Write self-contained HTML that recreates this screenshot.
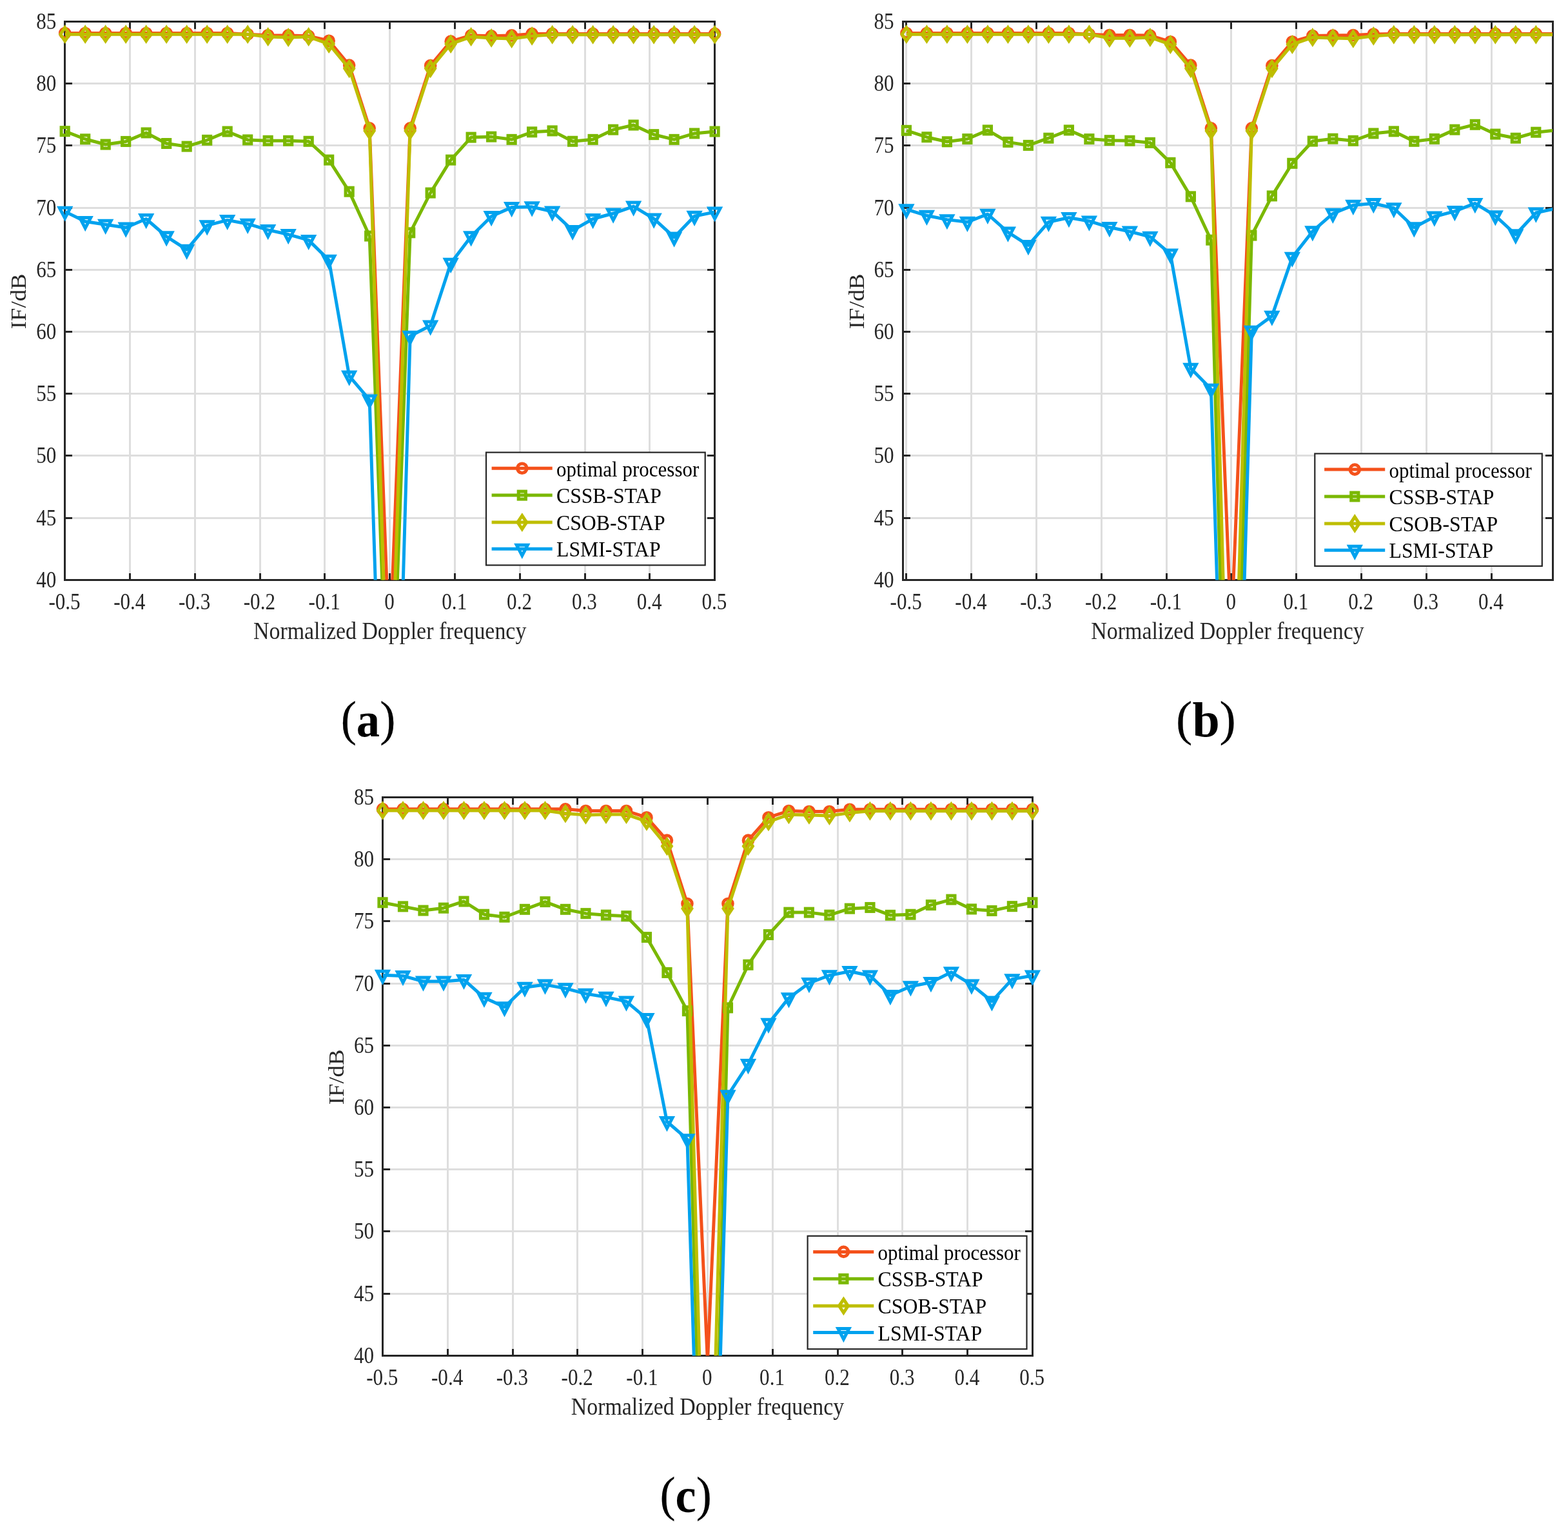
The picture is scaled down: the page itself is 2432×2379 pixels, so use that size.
<!DOCTYPE html>
<html><head><meta charset="utf-8"><title>IF vs Normalized Doppler frequency</title>
<style>html,body{margin:0;padding:0;background:#fff}svg{display:block}</style></head>
<body><svg width="2432" height="2379" viewBox="0 0 2432 2379">
<rect width="2432" height="2379" fill="#fff"/>
<clipPath id="cpa"><rect x="100.7" y="33.5" width="1007.9" height="865.9"/></clipPath>
<path d="M100.5 33.5V899.5M201.5 33.5V899.5M302.5 33.5V899.5M403.5 33.5V899.5M503.5 33.5V899.5M604.5 33.5V899.5M705.5 33.5V899.5M806.5 33.5V899.5M907.5 33.5V899.5M1007.5 33.5V899.5M1108.5 33.5V899.5M100.5 899.5H1108.5M100.5 803.5H1108.5M100.5 706.5H1108.5M100.5 610.5H1108.5M100.5 514.5H1108.5M100.5 418.5H1108.5M100.5 322.5H1108.5M100.5 225.5H1108.5M100.5 129.5H1108.5M100.5 33.5H1108.5" stroke="#DEDEDE" stroke-width="3.0" fill="none" shape-rendering="crispEdges"/>
<path d="M201.5 899.5v-11M201.5 33.5v11M302.5 899.5v-11M302.5 33.5v11M403.5 899.5v-11M403.5 33.5v11M503.5 899.5v-11M503.5 33.5v11M604.5 899.5v-11M604.5 33.5v11M705.5 899.5v-11M705.5 33.5v11M806.5 899.5v-11M806.5 33.5v11M907.5 899.5v-11M907.5 33.5v11M1007.5 899.5v-11M1007.5 33.5v11M100.5 803.5h11.5M1108.5 803.5h-11.5M100.5 706.5h11.5M1108.5 706.5h-11.5M100.5 610.5h11.5M1108.5 610.5h-11.5M100.5 514.5h11.5M1108.5 514.5h-11.5M100.5 418.5h11.5M1108.5 418.5h-11.5M100.5 322.5h11.5M1108.5 322.5h-11.5M100.5 225.5h11.5M1108.5 225.5h-11.5M100.5 129.5h11.5M1108.5 129.5h-11.5" stroke="#262626" stroke-width="3.0" fill="none" shape-rendering="crispEdges"/>
<rect x="100.5" y="33.5" width="1008" height="866" stroke="#262626" stroke-width="3.0" fill="none" shape-rendering="crispEdges"/>
<g font-family="Liberation Serif, serif" font-size="34" fill="#262626"><text transform="translate(100 944.9) scale(0.915 1.045)" text-anchor="middle">-0.5</text><text transform="translate(200.79 944.9) scale(0.915 1.045)" text-anchor="middle">-0.4</text><text transform="translate(301.58 944.9) scale(0.915 1.045)" text-anchor="middle">-0.3</text><text transform="translate(402.37 944.9) scale(0.915 1.045)" text-anchor="middle">-0.2</text><text transform="translate(503.16 944.9) scale(0.915 1.045)" text-anchor="middle">-0.1</text><text transform="translate(603.95 944.9) scale(0.915 1.045)" text-anchor="middle">0</text><text transform="translate(704.74 944.9) scale(0.915 1.045)" text-anchor="middle">0.1</text><text transform="translate(805.53 944.9) scale(0.915 1.045)" text-anchor="middle">0.2</text><text transform="translate(906.32 944.9) scale(0.915 1.045)" text-anchor="middle">0.3</text><text transform="translate(1007.11 944.9) scale(0.915 1.045)" text-anchor="middle">0.4</text><text transform="translate(1107.9 944.9) scale(0.915 1.045)" text-anchor="middle">0.5</text><text transform="translate(87.3 910.9) scale(0.915 1.045)" text-anchor="end">40</text><text transform="translate(87.3 814.69) scale(0.915 1.045)" text-anchor="end">45</text><text transform="translate(87.3 718.49) scale(0.915 1.045)" text-anchor="end">50</text><text transform="translate(87.3 622.28) scale(0.915 1.045)" text-anchor="end">55</text><text transform="translate(87.3 526.08) scale(0.915 1.045)" text-anchor="end">60</text><text transform="translate(87.3 429.88) scale(0.915 1.045)" text-anchor="end">65</text><text transform="translate(87.3 333.67) scale(0.915 1.045)" text-anchor="end">70</text><text transform="translate(87.3 237.47) scale(0.915 1.045)" text-anchor="end">75</text><text transform="translate(87.3 141.26) scale(0.915 1.045)" text-anchor="end">80</text><text transform="translate(87.3 45.05) scale(0.915 1.045)" text-anchor="end">85</text></g>
<text transform="translate(604.65 991) scale(0.997 1.12)" text-anchor="middle" font-family="Liberation Serif, serif" font-size="34" fill="#262626">Normalized Doppler frequency</text>
<text transform="translate(40.2 467.35) rotate(-90) scale(1.08 0.99)" text-anchor="middle" font-family="Liberation Serif, serif" font-size="34" fill="#262626">IF/dB</text>
<path d="M100.7 51.45L132.2 51.45L163.69 51.45L195.19 51.45L226.69 51.45L258.18 51.45L289.68 51.45L321.18 51.45L352.68 51.45L384.17 53.18L415.67 54.72L447.17 54.91L478.66 55.87L510.16 63.19L541.66 101.09L573.15 198.84L604.65 1028.5M604.65 1004L636.15 198.84L667.64 101.67L699.14 64.15L730.64 54.91L762.13 55.87L793.63 54.91L825.13 52.41L856.62 52.41L888.12 52.41L919.62 52.41L951.12 52.41L982.61 52.41L1014.11 52.41L1045.61 52.41L1077.1 52.41L1108.6 52.41" stroke="#F4511B" stroke-width="5.0" fill="none" stroke-linejoin="round" clip-path="url(#cpa)"/>
<g stroke="#F4511B" stroke-width="5.0" fill="none" stroke-miterlimit="10"><circle cx="100.7" cy="51.45" r="7.3"/><circle cx="132.2" cy="51.45" r="7.3"/><circle cx="163.69" cy="51.45" r="7.3"/><circle cx="195.19" cy="51.45" r="7.3"/><circle cx="226.69" cy="51.45" r="7.3"/><circle cx="258.18" cy="51.45" r="7.3"/><circle cx="289.68" cy="51.45" r="7.3"/><circle cx="321.18" cy="51.45" r="7.3"/><circle cx="352.68" cy="51.45" r="7.3"/><circle cx="384.17" cy="53.18" r="7.3"/><circle cx="415.67" cy="54.72" r="7.3"/><circle cx="447.17" cy="54.91" r="7.3"/><circle cx="478.66" cy="55.87" r="7.3"/><circle cx="510.16" cy="63.19" r="7.3"/><circle cx="541.66" cy="101.09" r="7.3"/><circle cx="573.15" cy="198.84" r="7.3"/><circle cx="636.15" cy="198.84" r="7.3"/><circle cx="667.64" cy="101.67" r="7.3"/><circle cx="699.14" cy="64.15" r="7.3"/><circle cx="730.64" cy="54.91" r="7.3"/><circle cx="762.13" cy="55.87" r="7.3"/><circle cx="793.63" cy="54.91" r="7.3"/><circle cx="825.13" cy="52.41" r="7.3"/><circle cx="856.62" cy="52.41" r="7.3"/><circle cx="888.12" cy="52.41" r="7.3"/><circle cx="919.62" cy="52.41" r="7.3"/><circle cx="951.12" cy="52.41" r="7.3"/><circle cx="982.61" cy="52.41" r="7.3"/><circle cx="1014.11" cy="52.41" r="7.3"/><circle cx="1045.61" cy="52.41" r="7.3"/><circle cx="1077.1" cy="52.41" r="7.3"/><circle cx="1108.6" cy="52.41" r="7.3"/></g>
<path d="M100.7 203.65L132.2 215.77L163.69 224.04L195.19 219.42L226.69 205.95L258.18 222.5L289.68 227.12L321.18 217.31L352.68 204.03L384.17 216.92L415.67 218.27L447.17 218.27L478.66 219.23L510.16 248.09L541.66 297.16L573.15 366.04L604.65 1223M604.65 1217.6L636.15 360.84L667.64 299.08L699.14 248.09L730.64 213.07L762.13 212.11L793.63 216.34L825.13 204.8L856.62 202.88L888.12 219.23L919.62 216.34L951.12 201.14L982.61 194.02L1014.11 208.65L1045.61 216.34L1077.1 206.92L1108.6 204.03" stroke="#7AB800" stroke-width="5.0" fill="none" stroke-linejoin="round" clip-path="url(#cpa)"/>
<g stroke="#7AB800" stroke-width="5.0" fill="none" stroke-miterlimit="10"><rect x="95.1" y="197.65" width="11.2" height="12"/><rect x="126.6" y="209.77" width="11.2" height="12"/><rect x="158.09" y="218.04" width="11.2" height="12"/><rect x="189.59" y="213.42" width="11.2" height="12"/><rect x="221.09" y="199.95" width="11.2" height="12"/><rect x="252.58" y="216.5" width="11.2" height="12"/><rect x="284.08" y="221.12" width="11.2" height="12"/><rect x="315.58" y="211.31" width="11.2" height="12"/><rect x="347.07" y="198.03" width="11.2" height="12"/><rect x="378.57" y="210.92" width="11.2" height="12"/><rect x="410.07" y="212.27" width="11.2" height="12"/><rect x="441.57" y="212.27" width="11.2" height="12"/><rect x="473.06" y="213.23" width="11.2" height="12"/><rect x="504.56" y="242.09" width="11.2" height="12"/><rect x="536.06" y="291.16" width="11.2" height="12"/><rect x="567.55" y="360.04" width="11.2" height="12"/><rect x="630.55" y="354.84" width="11.2" height="12"/><rect x="662.04" y="293.08" width="11.2" height="12"/><rect x="693.54" y="242.09" width="11.2" height="12"/><rect x="725.04" y="207.07" width="11.2" height="12"/><rect x="756.53" y="206.11" width="11.2" height="12"/><rect x="788.03" y="210.34" width="11.2" height="12"/><rect x="819.53" y="198.8" width="11.2" height="12"/><rect x="851.02" y="196.88" width="11.2" height="12"/><rect x="882.52" y="213.23" width="11.2" height="12"/><rect x="914.02" y="210.34" width="11.2" height="12"/><rect x="945.52" y="195.14" width="11.2" height="12"/><rect x="977.01" y="188.02" width="11.2" height="12"/><rect x="1008.51" y="202.65" width="11.2" height="12"/><rect x="1040.01" y="210.34" width="11.2" height="12"/><rect x="1071.5" y="200.92" width="11.2" height="12"/><rect x="1103" y="198.03" width="11.2" height="12"/></g>
<path d="M100.7 53.18L132.2 53.18L163.69 53.18L195.19 53.18L226.69 53.18L258.18 53.18L289.68 53.18L321.18 53.18L352.68 53.18L384.17 53.18L415.67 57.03L447.17 57.99L478.66 57.03L510.16 68.19L541.66 106.29L573.15 202.88L604.65 1209M604.65 1149L636.15 202.88L667.64 106.29L699.14 68.19L730.64 57.03L762.13 58.95L793.63 60.11L825.13 55.87L856.62 53.76L888.12 53.76L919.62 53.76L951.12 53.76L982.61 53.76L1014.11 53.76L1045.61 53.76L1077.1 53.76L1108.6 53.76" stroke="#BEBE00" stroke-width="5.0" fill="none" stroke-linejoin="round" clip-path="url(#cpa)"/>
<g stroke="#BEBE00" stroke-width="5.0" fill="none" stroke-miterlimit="10"><path d="M100.7 42.78L107.6 53.18L100.7 63.58L93.8 53.18Z"/><path d="M132.2 42.78L139.1 53.18L132.2 63.58L125.3 53.18Z"/><path d="M163.69 42.78L170.59 53.18L163.69 63.58L156.79 53.18Z"/><path d="M195.19 42.78L202.09 53.18L195.19 63.58L188.29 53.18Z"/><path d="M226.69 42.78L233.59 53.18L226.69 63.58L219.79 53.18Z"/><path d="M258.18 42.78L265.08 53.18L258.18 63.58L251.28 53.18Z"/><path d="M289.68 42.78L296.58 53.18L289.68 63.58L282.78 53.18Z"/><path d="M321.18 42.78L328.08 53.18L321.18 63.58L314.28 53.18Z"/><path d="M352.68 42.78L359.57 53.18L352.68 63.58L345.78 53.18Z"/><path d="M384.17 42.78L391.07 53.18L384.17 63.58L377.27 53.18Z"/><path d="M415.67 46.63L422.57 57.03L415.67 67.43L408.77 57.03Z"/><path d="M447.17 47.59L454.07 57.99L447.17 68.39L440.27 57.99Z"/><path d="M478.66 46.63L485.56 57.03L478.66 67.43L471.76 57.03Z"/><path d="M510.16 57.79L517.06 68.19L510.16 78.59L503.26 68.19Z"/><path d="M541.66 95.89L548.56 106.29L541.66 116.69L534.76 106.29Z"/><path d="M573.15 192.48L580.05 202.88L573.15 213.28L566.25 202.88Z"/><path d="M636.15 192.48L643.05 202.88L636.15 213.28L629.25 202.88Z"/><path d="M667.64 95.89L674.54 106.29L667.64 116.69L660.74 106.29Z"/><path d="M699.14 57.79L706.04 68.19L699.14 78.59L692.24 68.19Z"/><path d="M730.64 46.63L737.54 57.03L730.64 67.43L723.74 57.03Z"/><path d="M762.13 48.55L769.03 58.95L762.13 69.35L755.23 58.95Z"/><path d="M793.63 49.71L800.53 60.11L793.63 70.51L786.73 60.11Z"/><path d="M825.13 45.47L832.03 55.87L825.13 66.27L818.23 55.87Z"/><path d="M856.62 43.36L863.52 53.76L856.62 64.16L849.73 53.76Z"/><path d="M888.12 43.36L895.02 53.76L888.12 64.16L881.22 53.76Z"/><path d="M919.62 43.36L926.52 53.76L919.62 64.16L912.72 53.76Z"/><path d="M951.12 43.36L958.02 53.76L951.12 64.16L944.22 53.76Z"/><path d="M982.61 43.36L989.51 53.76L982.61 64.16L975.71 53.76Z"/><path d="M1014.11 43.36L1021.01 53.76L1014.11 64.16L1007.21 53.76Z"/><path d="M1045.61 43.36L1052.51 53.76L1045.61 64.16L1038.71 53.76Z"/><path d="M1077.1 43.36L1084 53.76L1077.1 64.16L1070.2 53.76Z"/><path d="M1108.6 43.36L1115.5 53.76L1108.6 64.16L1101.7 53.76Z"/></g>
<path d="M100.7 328.13L132.2 343.53L163.69 348.34L195.19 352.96L226.69 339.49L258.18 366.81L289.68 387.2L321.18 349.68L352.68 341.41L384.17 347.18L415.67 356.61L447.17 363.54L478.66 372.39L510.16 403.37L541.66 583.08L573.15 620.02L604.65 1597.6M604.65 1624L636.15 521.31L667.64 504.96L699.14 408.37L730.64 366.81L762.13 335.45L793.63 321.59L825.13 320.82L856.62 327.94L888.12 357.38L919.62 339.49L951.12 331.02L982.61 320.05L1014.11 339.1L1045.61 367.96L1077.1 335.25L1108.6 328.9" stroke="#00A2EE" stroke-width="5.0" fill="none" stroke-linejoin="round" clip-path="url(#cpa)"/>
<g stroke="#00A2EE" stroke-width="5.0" fill="none" stroke-miterlimit="10"><path d="M92.16 322.13L109.24 322.13L100.7 338.45Z"/><path d="M123.66 337.53L140.74 337.53L132.2 353.85Z"/><path d="M155.15 342.34L172.23 342.34L163.69 358.66Z"/><path d="M186.65 346.96L203.73 346.96L195.19 363.28Z"/><path d="M218.15 333.49L235.23 333.49L226.69 349.81Z"/><path d="M249.64 360.81L266.72 360.81L258.18 377.13Z"/><path d="M281.14 381.2L298.22 381.2L289.68 397.52Z"/><path d="M312.64 343.68L329.72 343.68L321.18 360Z"/><path d="M344.13 335.41L361.22 335.41L352.68 351.73Z"/><path d="M375.63 341.18L392.71 341.18L384.17 357.5Z"/><path d="M407.13 350.61L424.21 350.61L415.67 366.93Z"/><path d="M438.63 357.54L455.71 357.54L447.17 373.86Z"/><path d="M470.12 366.39L487.2 366.39L478.66 382.71Z"/><path d="M501.62 397.37L518.7 397.37L510.16 413.69Z"/><path d="M533.12 577.08L550.2 577.08L541.66 593.4Z"/><path d="M564.61 614.02L581.69 614.02L573.15 630.34Z"/><path d="M627.61 515.31L644.69 515.31L636.15 531.63Z"/><path d="M659.1 498.96L676.18 498.96L667.64 515.28Z"/><path d="M690.6 402.37L707.68 402.37L699.14 418.69Z"/><path d="M722.1 360.81L739.18 360.81L730.64 377.13Z"/><path d="M753.59 329.45L770.67 329.45L762.13 345.77Z"/><path d="M785.09 315.59L802.17 315.59L793.63 331.91Z"/><path d="M816.59 314.82L833.67 314.82L825.13 331.14Z"/><path d="M848.09 321.94L865.16 321.94L856.62 338.26Z"/><path d="M879.58 351.38L896.66 351.38L888.12 367.7Z"/><path d="M911.08 333.49L928.16 333.49L919.62 349.81Z"/><path d="M942.58 325.02L959.66 325.02L951.12 341.34Z"/><path d="M974.07 314.05L991.15 314.05L982.61 330.37Z"/><path d="M1005.57 333.1L1022.65 333.1L1014.11 349.42Z"/><path d="M1037.07 361.96L1054.15 361.96L1045.61 378.28Z"/><path d="M1068.56 329.25L1085.64 329.25L1077.1 345.57Z"/><path d="M1100.06 322.9L1117.14 322.9L1108.6 339.22Z"/></g>
<rect x="754" y="701.6" width="339.7" height="174.9" fill="#fff" stroke="#262626" stroke-width="2.2"/>
<path d="M762.6 726.2H856.7" stroke="#F4511B" stroke-width="5.0"/>
<g stroke="#F4511B" stroke-width="5.0" fill="none" stroke-miterlimit="10"><circle cx="809.8" cy="726.2" r="7.3"/></g>
<text transform="translate(863 738.8) scale(0.912 0.96)" font-family="Liberation Serif, serif" font-size="34" fill="#000">optimal processor</text>
<path d="M762.6 768.1H856.7" stroke="#7AB800" stroke-width="5.0"/>
<g stroke="#7AB800" stroke-width="5.0" fill="none" stroke-miterlimit="10"><rect x="804.2" y="762.1" width="11.2" height="12"/></g>
<text transform="translate(863 780.2) scale(0.932 1.02)" font-family="Liberation Serif, serif" font-size="34" fill="#000">CSSB-STAP</text>
<path d="M762.6 810.1H856.7" stroke="#BEBE00" stroke-width="5.0"/>
<g stroke="#BEBE00" stroke-width="5.0" fill="none" stroke-miterlimit="10"><path d="M809.8 799.7L816.7 810.1L809.8 820.5L802.9 810.1Z"/></g>
<text transform="translate(863 822.2) scale(0.934 1.02)" font-family="Liberation Serif, serif" font-size="34" fill="#000">CSOB-STAP</text>
<path d="M762.6 851.3H856.7" stroke="#00A2EE" stroke-width="5.0"/>
<g stroke="#00A2EE" stroke-width="5.0" fill="none" stroke-miterlimit="10"><path d="M801.26 845.3L818.34 845.3L809.8 861.62Z"/></g>
<text transform="translate(863 863.4) scale(0.934 1.02)" font-family="Liberation Serif, serif" font-size="34" fill="#000">LSMI-STAP</text>
<text transform="translate(571 1141.5) scale(0.907 0.948)" text-anchor="middle" font-family="Liberation Serif, serif" font-weight="bold" font-size="80" fill="#000"><tspan font-weight="normal" stroke="#000" stroke-width="0.2" dy="-1.5">(</tspan><tspan dy="1.5">a</tspan><tspan font-weight="normal" stroke="#000" stroke-width="0.2" dy="-1.5">)</tspan></text>
<clipPath id="cpb"><rect x="1400" y="33.5" width="1008" height="865.9"/></clipPath>
<path d="M1405.5 33.5V899.5M1506.5 33.5V899.5M1607.5 33.5V899.5M1708.5 33.5V899.5M1809.5 33.5V899.5M1909.5 33.5V899.5M2010.5 33.5V899.5M2111.5 33.5V899.5M2212.5 33.5V899.5M2313.5 33.5V899.5M1400.5 899.5H2408.5M1400.5 803.5H2408.5M1400.5 706.5H2408.5M1400.5 610.5H2408.5M1400.5 514.5H2408.5M1400.5 418.5H2408.5M1400.5 322.5H2408.5M1400.5 225.5H2408.5M1400.5 129.5H2408.5M1400.5 33.5H2408.5" stroke="#DEDEDE" stroke-width="3.0" fill="none" shape-rendering="crispEdges"/>
<path d="M1405.5 899.5v-11M1405.5 33.5v11M1506.5 899.5v-11M1506.5 33.5v11M1607.5 899.5v-11M1607.5 33.5v11M1708.5 899.5v-11M1708.5 33.5v11M1809.5 899.5v-11M1809.5 33.5v11M1909.5 899.5v-11M1909.5 33.5v11M2010.5 899.5v-11M2010.5 33.5v11M2111.5 899.5v-11M2111.5 33.5v11M2212.5 899.5v-11M2212.5 33.5v11M2313.5 899.5v-11M2313.5 33.5v11M1400.5 803.5h11.5M2408.5 803.5h-11.5M1400.5 706.5h11.5M2408.5 706.5h-11.5M1400.5 610.5h11.5M2408.5 610.5h-11.5M1400.5 514.5h11.5M2408.5 514.5h-11.5M1400.5 418.5h11.5M2408.5 418.5h-11.5M1400.5 322.5h11.5M2408.5 322.5h-11.5M1400.5 225.5h11.5M2408.5 225.5h-11.5M1400.5 129.5h11.5M2408.5 129.5h-11.5" stroke="#262626" stroke-width="3.0" fill="none" shape-rendering="crispEdges"/>
<rect x="1400.5" y="33.5" width="1008" height="866" stroke="#262626" stroke-width="3.0" fill="none" shape-rendering="crispEdges"/>
<g font-family="Liberation Serif, serif" font-size="34" fill="#262626"><text transform="translate(1405.2 944.9) scale(0.915 1.045)" text-anchor="middle">-0.5</text><text transform="translate(1505.99 944.9) scale(0.915 1.045)" text-anchor="middle">-0.4</text><text transform="translate(1606.78 944.9) scale(0.915 1.045)" text-anchor="middle">-0.3</text><text transform="translate(1707.57 944.9) scale(0.915 1.045)" text-anchor="middle">-0.2</text><text transform="translate(1808.36 944.9) scale(0.915 1.045)" text-anchor="middle">-0.1</text><text transform="translate(1909.15 944.9) scale(0.915 1.045)" text-anchor="middle">0</text><text transform="translate(2009.94 944.9) scale(0.915 1.045)" text-anchor="middle">0.1</text><text transform="translate(2110.73 944.9) scale(0.915 1.045)" text-anchor="middle">0.2</text><text transform="translate(2211.52 944.9) scale(0.915 1.045)" text-anchor="middle">0.3</text><text transform="translate(2312.31 944.9) scale(0.915 1.045)" text-anchor="middle">0.4</text><text transform="translate(1386.6 910.9) scale(0.915 1.045)" text-anchor="end">40</text><text transform="translate(1386.6 814.69) scale(0.915 1.045)" text-anchor="end">45</text><text transform="translate(1386.6 718.49) scale(0.915 1.045)" text-anchor="end">50</text><text transform="translate(1386.6 622.28) scale(0.915 1.045)" text-anchor="end">55</text><text transform="translate(1386.6 526.08) scale(0.915 1.045)" text-anchor="end">60</text><text transform="translate(1386.6 429.88) scale(0.915 1.045)" text-anchor="end">65</text><text transform="translate(1386.6 333.67) scale(0.915 1.045)" text-anchor="end">70</text><text transform="translate(1386.6 237.47) scale(0.915 1.045)" text-anchor="end">75</text><text transform="translate(1386.6 141.26) scale(0.915 1.045)" text-anchor="end">80</text><text transform="translate(1386.6 45.05) scale(0.915 1.045)" text-anchor="end">85</text></g>
<text transform="translate(1904 991) scale(0.997 1.12)" text-anchor="middle" font-family="Liberation Serif, serif" font-size="34" fill="#262626">Normalized Doppler frequency</text>
<text transform="translate(1339.5 467.35) rotate(-90) scale(1.08 0.99)" text-anchor="middle" font-family="Liberation Serif, serif" font-size="34" fill="#262626">IF/dB</text>
<path d="M1405.9 51.45L1437.4 51.45L1468.89 51.45L1500.39 51.45L1531.89 51.45L1563.38 51.45L1594.88 51.45L1626.38 51.45L1657.88 51.45L1689.37 53.18L1720.87 54.53L1752.37 54.53L1783.86 55.1L1815.36 64.73L1846.86 101.09L1878.35 198.84L1909.85 987M1909.85 981.4L1941.35 198.84L1972.84 101.67L2004.34 64.73L2035.84 55.49L2067.33 55.1L2098.83 54.53L2130.33 52.99L2161.82 52.41L2193.32 52.41L2224.82 52.41L2256.32 52.41L2287.81 52.41L2319.31 52.41L2350.81 52.41L2382.3 52.41L2413.8 52.41" stroke="#F4511B" stroke-width="5.0" fill="none" stroke-linejoin="round" clip-path="url(#cpb)"/>
<g stroke="#F4511B" stroke-width="5.0" fill="none" stroke-miterlimit="10"><circle cx="1405.9" cy="51.45" r="7.3"/><circle cx="1437.4" cy="51.45" r="7.3"/><circle cx="1468.89" cy="51.45" r="7.3"/><circle cx="1500.39" cy="51.45" r="7.3"/><circle cx="1531.89" cy="51.45" r="7.3"/><circle cx="1563.38" cy="51.45" r="7.3"/><circle cx="1594.88" cy="51.45" r="7.3"/><circle cx="1626.38" cy="51.45" r="7.3"/><circle cx="1657.88" cy="51.45" r="7.3"/><circle cx="1689.37" cy="53.18" r="7.3"/><circle cx="1720.87" cy="54.53" r="7.3"/><circle cx="1752.37" cy="54.53" r="7.3"/><circle cx="1783.86" cy="55.1" r="7.3"/><circle cx="1815.36" cy="64.73" r="7.3"/><circle cx="1846.86" cy="101.09" r="7.3"/><circle cx="1878.35" cy="198.84" r="7.3"/><circle cx="1941.35" cy="198.84" r="7.3"/><circle cx="1972.84" cy="101.67" r="7.3"/><circle cx="2004.34" cy="64.73" r="7.3"/><circle cx="2035.84" cy="55.49" r="7.3"/><circle cx="2067.33" cy="55.1" r="7.3"/><circle cx="2098.83" cy="54.53" r="7.3"/><circle cx="2130.33" cy="52.99" r="7.3"/><circle cx="2161.82" cy="52.41" r="7.3"/><circle cx="2193.32" cy="52.41" r="7.3"/><circle cx="2224.82" cy="52.41" r="7.3"/><circle cx="2256.32" cy="52.41" r="7.3"/><circle cx="2287.81" cy="52.41" r="7.3"/><circle cx="2319.31" cy="52.41" r="7.3"/><circle cx="2350.81" cy="52.41" r="7.3"/><circle cx="2382.3" cy="52.41" r="7.3"/></g>
<path d="M1405.9 202.3L1437.4 212.69L1468.89 219.81L1500.39 215.57L1531.89 201.91L1563.38 220.39L1594.88 225.39L1626.38 214.23L1657.88 201.91L1689.37 215.57L1720.87 217.69L1752.37 218.27L1783.86 221.35L1815.36 252.33L1846.86 304.85L1878.35 372.2L1909.85 1525M1909.85 1437L1941.35 365.08L1972.84 303.89L2004.34 253.29L2035.84 219.04L2067.33 215.19L2098.83 218.27L2130.33 206.92L2161.82 203.84L2193.32 219.23L2224.82 215.38L2256.32 201.14L2287.81 193.26L2319.31 208.07L2350.81 214.23L2382.3 205.18L2413.8 201.91" stroke="#7AB800" stroke-width="5.0" fill="none" stroke-linejoin="round" clip-path="url(#cpb)"/>
<g stroke="#7AB800" stroke-width="5.0" fill="none" stroke-miterlimit="10"><rect x="1400.3" y="196.3" width="11.2" height="12"/><rect x="1431.8" y="206.69" width="11.2" height="12"/><rect x="1463.29" y="213.81" width="11.2" height="12"/><rect x="1494.79" y="209.57" width="11.2" height="12"/><rect x="1526.29" y="195.91" width="11.2" height="12"/><rect x="1557.78" y="214.39" width="11.2" height="12"/><rect x="1589.28" y="219.39" width="11.2" height="12"/><rect x="1620.78" y="208.23" width="11.2" height="12"/><rect x="1652.28" y="195.91" width="11.2" height="12"/><rect x="1683.77" y="209.57" width="11.2" height="12"/><rect x="1715.27" y="211.69" width="11.2" height="12"/><rect x="1746.77" y="212.27" width="11.2" height="12"/><rect x="1778.26" y="215.35" width="11.2" height="12"/><rect x="1809.76" y="246.33" width="11.2" height="12"/><rect x="1841.26" y="298.85" width="11.2" height="12"/><rect x="1872.75" y="366.2" width="11.2" height="12"/><rect x="1935.75" y="359.08" width="11.2" height="12"/><rect x="1967.24" y="297.89" width="11.2" height="12"/><rect x="1998.74" y="247.29" width="11.2" height="12"/><rect x="2030.24" y="213.04" width="11.2" height="12"/><rect x="2061.73" y="209.19" width="11.2" height="12"/><rect x="2093.23" y="212.27" width="11.2" height="12"/><rect x="2124.73" y="200.92" width="11.2" height="12"/><rect x="2156.22" y="197.84" width="11.2" height="12"/><rect x="2187.72" y="213.23" width="11.2" height="12"/><rect x="2219.22" y="209.38" width="11.2" height="12"/><rect x="2250.72" y="195.14" width="11.2" height="12"/><rect x="2282.21" y="187.26" width="11.2" height="12"/><rect x="2313.71" y="202.07" width="11.2" height="12"/><rect x="2345.21" y="208.23" width="11.2" height="12"/><rect x="2376.7" y="199.18" width="11.2" height="12"/></g>
<path d="M1405.9 53.18L1437.4 53.18L1468.89 53.18L1500.39 53.18L1531.89 53.18L1563.38 53.18L1594.88 53.18L1626.38 53.18L1657.88 53.18L1689.37 53.18L1720.87 59.15L1752.37 59.15L1783.86 57.99L1815.36 68.96L1846.86 106.29L1878.35 202.88L1909.85 1370M1909.85 1317L1941.35 202.88L1972.84 106.29L2004.34 68.96L2035.84 57.99L2067.33 58.95L2098.83 59.72L2130.33 55.87L2161.82 53.76L2193.32 53.76L2224.82 53.76L2256.32 53.76L2287.81 53.76L2319.31 53.76L2350.81 53.76L2382.3 53.76L2413.8 53.76" stroke="#BEBE00" stroke-width="5.0" fill="none" stroke-linejoin="round" clip-path="url(#cpb)"/>
<g stroke="#BEBE00" stroke-width="5.0" fill="none" stroke-miterlimit="10"><path d="M1405.9 42.78L1412.8 53.18L1405.9 63.58L1399 53.18Z"/><path d="M1437.4 42.78L1444.3 53.18L1437.4 63.58L1430.5 53.18Z"/><path d="M1468.89 42.78L1475.79 53.18L1468.89 63.58L1461.99 53.18Z"/><path d="M1500.39 42.78L1507.29 53.18L1500.39 63.58L1493.49 53.18Z"/><path d="M1531.89 42.78L1538.79 53.18L1531.89 63.58L1524.99 53.18Z"/><path d="M1563.38 42.78L1570.28 53.18L1563.38 63.58L1556.48 53.18Z"/><path d="M1594.88 42.78L1601.78 53.18L1594.88 63.58L1587.98 53.18Z"/><path d="M1626.38 42.78L1633.28 53.18L1626.38 63.58L1619.48 53.18Z"/><path d="M1657.88 42.78L1664.78 53.18L1657.88 63.58L1650.97 53.18Z"/><path d="M1689.37 42.78L1696.27 53.18L1689.37 63.58L1682.47 53.18Z"/><path d="M1720.87 48.75L1727.77 59.15L1720.87 69.55L1713.97 59.15Z"/><path d="M1752.37 48.75L1759.27 59.15L1752.37 69.55L1745.47 59.15Z"/><path d="M1783.86 47.59L1790.76 57.99L1783.86 68.39L1776.96 57.99Z"/><path d="M1815.36 58.56L1822.26 68.96L1815.36 79.36L1808.46 68.96Z"/><path d="M1846.86 95.89L1853.76 106.29L1846.86 116.69L1839.96 106.29Z"/><path d="M1878.35 192.48L1885.25 202.88L1878.35 213.28L1871.45 202.88Z"/><path d="M1941.35 192.48L1948.25 202.88L1941.35 213.28L1934.45 202.88Z"/><path d="M1972.84 95.89L1979.74 106.29L1972.84 116.69L1965.94 106.29Z"/><path d="M2004.34 58.56L2011.24 68.96L2004.34 79.36L1997.44 68.96Z"/><path d="M2035.84 47.59L2042.74 57.99L2035.84 68.39L2028.94 57.99Z"/><path d="M2067.33 48.55L2074.23 58.95L2067.33 69.35L2060.43 58.95Z"/><path d="M2098.83 49.32L2105.73 59.72L2098.83 70.12L2091.93 59.72Z"/><path d="M2130.33 45.47L2137.23 55.87L2130.33 66.27L2123.43 55.87Z"/><path d="M2161.82 43.36L2168.72 53.76L2161.82 64.16L2154.92 53.76Z"/><path d="M2193.32 43.36L2200.22 53.76L2193.32 64.16L2186.42 53.76Z"/><path d="M2224.82 43.36L2231.72 53.76L2224.82 64.16L2217.92 53.76Z"/><path d="M2256.32 43.36L2263.22 53.76L2256.32 64.16L2249.42 53.76Z"/><path d="M2287.81 43.36L2294.71 53.76L2287.81 64.16L2280.91 53.76Z"/><path d="M2319.31 43.36L2326.21 53.76L2319.31 64.16L2312.41 53.76Z"/><path d="M2350.81 43.36L2357.71 53.76L2350.81 64.16L2343.91 53.76Z"/><path d="M2382.3 43.36L2389.2 53.76L2382.3 64.16L2375.4 53.76Z"/></g>
<path d="M1405.9 324.67L1437.4 334.29L1468.89 340.64L1500.39 344.3L1531.89 332.18L1563.38 360.07L1594.88 380.47L1626.38 344.3L1657.88 337.56L1689.37 342.95L1720.87 352.57L1752.37 359.11L1783.86 367.19L1815.36 393.94L1846.86 571.15L1878.35 603.28L1909.85 1617M1909.85 1599L1941.35 513.23L1972.84 490.14L2004.34 399.13L2035.84 358.73L2067.33 331.21L2098.83 318.32L2130.33 315.44L2161.82 322.75L2193.32 352.76L2224.82 336.02L2256.32 327.56L2287.81 315.44L2319.31 334.68L2350.81 363.73L2382.3 330.06L2413.8 323.32" stroke="#00A2EE" stroke-width="5.0" fill="none" stroke-linejoin="round" clip-path="url(#cpb)"/>
<g stroke="#00A2EE" stroke-width="5.0" fill="none" stroke-miterlimit="10"><path d="M1397.36 318.67L1414.44 318.67L1405.9 334.99Z"/><path d="M1428.86 328.29L1445.94 328.29L1437.4 344.61Z"/><path d="M1460.35 334.64L1477.43 334.64L1468.89 350.96Z"/><path d="M1491.85 338.3L1508.93 338.3L1500.39 354.62Z"/><path d="M1523.35 326.18L1540.43 326.18L1531.89 342.5Z"/><path d="M1554.84 354.07L1571.92 354.07L1563.38 370.39Z"/><path d="M1586.34 374.47L1603.42 374.47L1594.88 390.79Z"/><path d="M1617.84 338.3L1634.92 338.3L1626.38 354.62Z"/><path d="M1649.34 331.56L1666.41 331.56L1657.88 347.88Z"/><path d="M1680.83 336.95L1697.91 336.95L1689.37 353.27Z"/><path d="M1712.33 346.57L1729.41 346.57L1720.87 362.89Z"/><path d="M1743.83 353.11L1760.91 353.11L1752.37 369.43Z"/><path d="M1775.32 361.19L1792.4 361.19L1783.86 377.51Z"/><path d="M1806.82 387.94L1823.9 387.94L1815.36 404.26Z"/><path d="M1838.32 565.15L1855.4 565.15L1846.86 581.47Z"/><path d="M1869.81 597.28L1886.89 597.28L1878.35 613.6Z"/><path d="M1932.81 507.23L1949.89 507.23L1941.35 523.55Z"/><path d="M1964.3 484.14L1981.38 484.14L1972.84 500.46Z"/><path d="M1995.8 393.13L2012.88 393.13L2004.34 409.45Z"/><path d="M2027.3 352.73L2044.38 352.73L2035.84 369.05Z"/><path d="M2058.79 325.21L2075.87 325.21L2067.33 341.53Z"/><path d="M2090.29 312.32L2107.37 312.32L2098.83 328.64Z"/><path d="M2121.79 309.44L2138.87 309.44L2130.33 325.76Z"/><path d="M2153.28 316.75L2170.36 316.75L2161.82 333.07Z"/><path d="M2184.78 346.76L2201.86 346.76L2193.32 363.08Z"/><path d="M2216.28 330.02L2233.36 330.02L2224.82 346.34Z"/><path d="M2247.78 321.56L2264.86 321.56L2256.32 337.88Z"/><path d="M2279.27 309.44L2296.35 309.44L2287.81 325.76Z"/><path d="M2310.77 328.68L2327.85 328.68L2319.31 345Z"/><path d="M2342.27 357.73L2359.35 357.73L2350.81 374.05Z"/><path d="M2373.76 324.06L2390.84 324.06L2382.3 340.38Z"/></g>
<rect x="2039.3" y="703.5" width="352.5" height="174.4" fill="#fff" stroke="#262626" stroke-width="2.2"/>
<path d="M2054.1 728.1H2148.2" stroke="#F4511B" stroke-width="5.0"/>
<g stroke="#F4511B" stroke-width="5.0" fill="none" stroke-miterlimit="10"><circle cx="2101.3" cy="728.1" r="7.3"/></g>
<text transform="translate(2154.5 740.7) scale(0.912 0.96)" font-family="Liberation Serif, serif" font-size="34" fill="#000">optimal processor</text>
<path d="M2054.1 770H2148.2" stroke="#7AB800" stroke-width="5.0"/>
<g stroke="#7AB800" stroke-width="5.0" fill="none" stroke-miterlimit="10"><rect x="2095.7" y="764" width="11.2" height="12"/></g>
<text transform="translate(2154.5 782.1) scale(0.932 1.02)" font-family="Liberation Serif, serif" font-size="34" fill="#000">CSSB-STAP</text>
<path d="M2054.1 812H2148.2" stroke="#BEBE00" stroke-width="5.0"/>
<g stroke="#BEBE00" stroke-width="5.0" fill="none" stroke-miterlimit="10"><path d="M2101.3 801.6L2108.2 812L2101.3 822.4L2094.4 812Z"/></g>
<text transform="translate(2154.5 824.1) scale(0.934 1.02)" font-family="Liberation Serif, serif" font-size="34" fill="#000">CSOB-STAP</text>
<path d="M2054.1 853.2H2148.2" stroke="#00A2EE" stroke-width="5.0"/>
<g stroke="#00A2EE" stroke-width="5.0" fill="none" stroke-miterlimit="10"><path d="M2092.76 847.2L2109.84 847.2L2101.3 863.52Z"/></g>
<text transform="translate(2154.5 865.3) scale(0.934 1.02)" font-family="Liberation Serif, serif" font-size="34" fill="#000">LSMI-STAP</text>
<text transform="translate(1870.5 1141.5) scale(0.949 0.959)" text-anchor="middle" font-family="Liberation Serif, serif" font-weight="bold" font-size="80" fill="#000"><tspan font-weight="normal" stroke="#000" stroke-width="0.2" dy="-1.5">(</tspan><tspan dy="1.5">b</tspan><tspan font-weight="normal" stroke="#000" stroke-width="0.2" dy="-1.5">)</tspan></text>
<clipPath id="cpc"><rect x="593.5" y="1236.6" width="1007.9" height="865.8"/></clipPath>
<path d="M593.5 1236.5V2102.5M694.5 1236.5V2102.5M795.5 1236.5V2102.5M895.5 1236.5V2102.5M996.5 1236.5V2102.5M1097.5 1236.5V2102.5M1198.5 1236.5V2102.5M1299.5 1236.5V2102.5M1399.5 1236.5V2102.5M1500.5 1236.5V2102.5M1601.5 1236.5V2102.5M593.5 2102.5H1601.5M593.5 2006.5H1601.5M593.5 1909.5H1601.5M593.5 1813.5H1601.5M593.5 1717.5H1601.5M593.5 1621.5H1601.5M593.5 1525.5H1601.5M593.5 1428.5H1601.5M593.5 1332.5H1601.5M593.5 1236.5H1601.5" stroke="#DEDEDE" stroke-width="3.0" fill="none" shape-rendering="crispEdges"/>
<path d="M694.5 2102.5v-11M694.5 1236.5v11M795.5 2102.5v-11M795.5 1236.5v11M895.5 2102.5v-11M895.5 1236.5v11M996.5 2102.5v-11M996.5 1236.5v11M1097.5 2102.5v-11M1097.5 1236.5v11M1198.5 2102.5v-11M1198.5 1236.5v11M1299.5 2102.5v-11M1299.5 1236.5v11M1399.5 2102.5v-11M1399.5 1236.5v11M1500.5 2102.5v-11M1500.5 1236.5v11M593.5 2006.5h11.5M1601.5 2006.5h-11.5M593.5 1909.5h11.5M1601.5 1909.5h-11.5M593.5 1813.5h11.5M1601.5 1813.5h-11.5M593.5 1717.5h11.5M1601.5 1717.5h-11.5M593.5 1621.5h11.5M1601.5 1621.5h-11.5M593.5 1525.5h11.5M1601.5 1525.5h-11.5M593.5 1428.5h11.5M1601.5 1428.5h-11.5M593.5 1332.5h11.5M1601.5 1332.5h-11.5" stroke="#262626" stroke-width="3.0" fill="none" shape-rendering="crispEdges"/>
<rect x="593.5" y="1236.5" width="1008" height="866" stroke="#262626" stroke-width="3.0" fill="none" shape-rendering="crispEdges"/>
<g font-family="Liberation Serif, serif" font-size="34" fill="#262626"><text transform="translate(592.8 2147.9) scale(0.915 1.045)" text-anchor="middle">-0.5</text><text transform="translate(693.59 2147.9) scale(0.915 1.045)" text-anchor="middle">-0.4</text><text transform="translate(794.38 2147.9) scale(0.915 1.045)" text-anchor="middle">-0.3</text><text transform="translate(895.17 2147.9) scale(0.915 1.045)" text-anchor="middle">-0.2</text><text transform="translate(995.96 2147.9) scale(0.915 1.045)" text-anchor="middle">-0.1</text><text transform="translate(1096.75 2147.9) scale(0.915 1.045)" text-anchor="middle">0</text><text transform="translate(1197.54 2147.9) scale(0.915 1.045)" text-anchor="middle">0.1</text><text transform="translate(1298.33 2147.9) scale(0.915 1.045)" text-anchor="middle">0.2</text><text transform="translate(1399.12 2147.9) scale(0.915 1.045)" text-anchor="middle">0.3</text><text transform="translate(1499.91 2147.9) scale(0.915 1.045)" text-anchor="middle">0.4</text><text transform="translate(1600.7 2147.9) scale(0.915 1.045)" text-anchor="middle">0.5</text><text transform="translate(580.1 2113.9) scale(0.915 1.045)" text-anchor="end">40</text><text transform="translate(580.1 2017.7) scale(0.915 1.045)" text-anchor="end">45</text><text transform="translate(580.1 1921.49) scale(0.915 1.045)" text-anchor="end">50</text><text transform="translate(580.1 1825.29) scale(0.915 1.045)" text-anchor="end">55</text><text transform="translate(580.1 1729.08) scale(0.915 1.045)" text-anchor="end">60</text><text transform="translate(580.1 1632.88) scale(0.915 1.045)" text-anchor="end">65</text><text transform="translate(580.1 1536.67) scale(0.915 1.045)" text-anchor="end">70</text><text transform="translate(580.1 1440.47) scale(0.915 1.045)" text-anchor="end">75</text><text transform="translate(580.1 1344.26) scale(0.915 1.045)" text-anchor="end">80</text><text transform="translate(580.1 1248.06) scale(0.915 1.045)" text-anchor="end">85</text></g>
<text transform="translate(1097.45 2194) scale(0.997 1.12)" text-anchor="middle" font-family="Liberation Serif, serif" font-size="34" fill="#262626">Normalized Doppler frequency</text>
<text transform="translate(533 1670.4) rotate(-90) scale(1.08 0.99)" text-anchor="middle" font-family="Liberation Serif, serif" font-size="34" fill="#262626">IF/dB</text>
<path d="M593.5 1254.83L625 1254.83L656.49 1254.83L687.99 1254.83L719.49 1254.83L750.98 1254.83L782.48 1254.83L813.98 1254.83L845.48 1254.83L876.97 1254.83L908.47 1257.53L939.97 1257.53L971.46 1257.53L1002.96 1267.73L1034.46 1303.13L1065.95 1401.45L1097.45 2112M1097.45 2112L1128.95 1401.45L1160.44 1303.13L1191.94 1267.73L1223.44 1257.53L1254.93 1258.49L1286.43 1258.49L1317.93 1255.22L1349.42 1255.22L1380.92 1255.22L1412.42 1255.22L1443.92 1255.22L1475.41 1255.22L1506.91 1255.22L1538.41 1255.22L1569.9 1255.22L1601.4 1255.22" stroke="#F4511B" stroke-width="5.0" fill="none" stroke-linejoin="round" clip-path="url(#cpc)"/>
<g stroke="#F4511B" stroke-width="5.0" fill="none" stroke-miterlimit="10"><circle cx="593.5" cy="1254.83" r="7.3"/><circle cx="625" cy="1254.83" r="7.3"/><circle cx="656.49" cy="1254.83" r="7.3"/><circle cx="687.99" cy="1254.83" r="7.3"/><circle cx="719.49" cy="1254.83" r="7.3"/><circle cx="750.98" cy="1254.83" r="7.3"/><circle cx="782.48" cy="1254.83" r="7.3"/><circle cx="813.98" cy="1254.83" r="7.3"/><circle cx="845.48" cy="1254.83" r="7.3"/><circle cx="876.97" cy="1254.83" r="7.3"/><circle cx="908.47" cy="1257.53" r="7.3"/><circle cx="939.97" cy="1257.53" r="7.3"/><circle cx="971.46" cy="1257.53" r="7.3"/><circle cx="1002.96" cy="1267.73" r="7.3"/><circle cx="1034.46" cy="1303.13" r="7.3"/><circle cx="1065.95" cy="1401.45" r="7.3"/><circle cx="1128.95" cy="1401.45" r="7.3"/><circle cx="1160.44" cy="1303.13" r="7.3"/><circle cx="1191.94" cy="1267.73" r="7.3"/><circle cx="1223.44" cy="1257.53" r="7.3"/><circle cx="1254.93" cy="1258.49" r="7.3"/><circle cx="1286.43" cy="1258.49" r="7.3"/><circle cx="1317.93" cy="1255.22" r="7.3"/><circle cx="1349.42" cy="1255.22" r="7.3"/><circle cx="1380.92" cy="1255.22" r="7.3"/><circle cx="1412.42" cy="1255.22" r="7.3"/><circle cx="1443.92" cy="1255.22" r="7.3"/><circle cx="1475.41" cy="1255.22" r="7.3"/><circle cx="1506.91" cy="1255.22" r="7.3"/><circle cx="1538.41" cy="1255.22" r="7.3"/><circle cx="1569.9" cy="1255.22" r="7.3"/><circle cx="1601.4" cy="1255.22" r="7.3"/></g>
<path d="M593.5 1399.72L625 1405.88L656.49 1412.03L687.99 1408.18L719.49 1397.99L750.98 1418.19L782.48 1422.23L813.98 1410.3L845.48 1398.56L876.97 1410.3L908.47 1416.65L939.97 1419.15L971.46 1420.69L1002.96 1453.59L1034.46 1508.43L1065.95 1567.69L1097.45 2691M1097.45 2808L1128.95 1562.88L1160.44 1496.31L1191.94 1449.55L1223.44 1415.11L1254.93 1415.11L1286.43 1419.15L1317.93 1409.15L1349.42 1407.42L1380.92 1419.34L1412.42 1418.19L1443.92 1403.57L1475.41 1395.1L1506.91 1409.92L1538.41 1412.42L1569.9 1405.68L1601.4 1399.72" stroke="#7AB800" stroke-width="5.0" fill="none" stroke-linejoin="round" clip-path="url(#cpc)"/>
<g stroke="#7AB800" stroke-width="5.0" fill="none" stroke-miterlimit="10"><rect x="587.9" y="1393.72" width="11.2" height="12"/><rect x="619.4" y="1399.88" width="11.2" height="12"/><rect x="650.89" y="1406.03" width="11.2" height="12"/><rect x="682.39" y="1402.18" width="11.2" height="12"/><rect x="713.89" y="1391.99" width="11.2" height="12"/><rect x="745.38" y="1412.19" width="11.2" height="12"/><rect x="776.88" y="1416.23" width="11.2" height="12"/><rect x="808.38" y="1404.3" width="11.2" height="12"/><rect x="839.88" y="1392.56" width="11.2" height="12"/><rect x="871.37" y="1404.3" width="11.2" height="12"/><rect x="902.87" y="1410.65" width="11.2" height="12"/><rect x="934.37" y="1413.15" width="11.2" height="12"/><rect x="965.86" y="1414.69" width="11.2" height="12"/><rect x="997.36" y="1447.59" width="11.2" height="12"/><rect x="1028.86" y="1502.43" width="11.2" height="12"/><rect x="1060.35" y="1561.69" width="11.2" height="12"/><rect x="1123.35" y="1556.88" width="11.2" height="12"/><rect x="1154.84" y="1490.31" width="11.2" height="12"/><rect x="1186.34" y="1443.55" width="11.2" height="12"/><rect x="1217.84" y="1409.11" width="11.2" height="12"/><rect x="1249.33" y="1409.11" width="11.2" height="12"/><rect x="1280.83" y="1413.15" width="11.2" height="12"/><rect x="1312.33" y="1403.15" width="11.2" height="12"/><rect x="1343.83" y="1401.42" width="11.2" height="12"/><rect x="1375.32" y="1413.34" width="11.2" height="12"/><rect x="1406.82" y="1412.19" width="11.2" height="12"/><rect x="1438.32" y="1397.57" width="11.2" height="12"/><rect x="1469.81" y="1389.1" width="11.2" height="12"/><rect x="1501.31" y="1403.92" width="11.2" height="12"/><rect x="1532.81" y="1406.42" width="11.2" height="12"/><rect x="1564.3" y="1399.68" width="11.2" height="12"/><rect x="1595.8" y="1393.72" width="11.2" height="12"/></g>
<path d="M593.5 1256.95L625 1256.95L656.49 1256.95L687.99 1256.95L719.49 1256.95L750.98 1256.95L782.48 1256.95L813.98 1256.95L845.48 1256.95L876.97 1261.57L908.47 1263.88L939.97 1263.11L971.46 1263.11L1002.96 1273.88L1034.46 1312.36L1065.95 1408.95L1097.45 2576M1097.45 2563L1128.95 1408.95L1160.44 1312.36L1191.94 1274.27L1223.44 1263.3L1254.93 1263.88L1286.43 1265.03L1317.93 1260.61L1349.42 1257.72L1380.92 1257.72L1412.42 1257.72L1443.92 1257.72L1475.41 1257.72L1506.91 1257.72L1538.41 1257.72L1569.9 1257.72L1601.4 1257.72" stroke="#BEBE00" stroke-width="5.0" fill="none" stroke-linejoin="round" clip-path="url(#cpc)"/>
<g stroke="#BEBE00" stroke-width="5.0" fill="none" stroke-miterlimit="10"><path d="M593.5 1246.55L600.4 1256.95L593.5 1267.35L586.6 1256.95Z"/><path d="M625 1246.55L631.9 1256.95L625 1267.35L618.1 1256.95Z"/><path d="M656.49 1246.55L663.39 1256.95L656.49 1267.35L649.59 1256.95Z"/><path d="M687.99 1246.55L694.89 1256.95L687.99 1267.35L681.09 1256.95Z"/><path d="M719.49 1246.55L726.39 1256.95L719.49 1267.35L712.59 1256.95Z"/><path d="M750.98 1246.55L757.88 1256.95L750.98 1267.35L744.08 1256.95Z"/><path d="M782.48 1246.55L789.38 1256.95L782.48 1267.35L775.58 1256.95Z"/><path d="M813.98 1246.55L820.88 1256.95L813.98 1267.35L807.08 1256.95Z"/><path d="M845.48 1246.55L852.38 1256.95L845.48 1267.35L838.58 1256.95Z"/><path d="M876.97 1251.17L883.87 1261.57L876.97 1271.97L870.07 1261.57Z"/><path d="M908.47 1253.48L915.37 1263.88L908.47 1274.28L901.57 1263.88Z"/><path d="M939.97 1252.71L946.87 1263.11L939.97 1273.51L933.07 1263.11Z"/><path d="M971.46 1252.71L978.36 1263.11L971.46 1273.51L964.56 1263.11Z"/><path d="M1002.96 1263.48L1009.86 1273.88L1002.96 1284.28L996.06 1273.88Z"/><path d="M1034.46 1301.96L1041.36 1312.36L1034.46 1322.76L1027.56 1312.36Z"/><path d="M1065.95 1398.55L1072.85 1408.95L1065.95 1419.35L1059.05 1408.95Z"/><path d="M1128.95 1398.55L1135.85 1408.95L1128.95 1419.35L1122.05 1408.95Z"/><path d="M1160.44 1301.96L1167.34 1312.36L1160.44 1322.76L1153.54 1312.36Z"/><path d="M1191.94 1263.87L1198.84 1274.27L1191.94 1284.67L1185.04 1274.27Z"/><path d="M1223.44 1252.9L1230.34 1263.3L1223.44 1273.7L1216.54 1263.3Z"/><path d="M1254.93 1253.48L1261.83 1263.88L1254.93 1274.28L1248.03 1263.88Z"/><path d="M1286.43 1254.63L1293.33 1265.03L1286.43 1275.43L1279.53 1265.03Z"/><path d="M1317.93 1250.21L1324.83 1260.61L1317.93 1271.01L1311.03 1260.61Z"/><path d="M1349.42 1247.32L1356.33 1257.72L1349.42 1268.12L1342.52 1257.72Z"/><path d="M1380.92 1247.32L1387.82 1257.72L1380.92 1268.12L1374.02 1257.72Z"/><path d="M1412.42 1247.32L1419.32 1257.72L1412.42 1268.12L1405.52 1257.72Z"/><path d="M1443.92 1247.32L1450.82 1257.72L1443.92 1268.12L1437.02 1257.72Z"/><path d="M1475.41 1247.32L1482.31 1257.72L1475.41 1268.12L1468.51 1257.72Z"/><path d="M1506.91 1247.32L1513.81 1257.72L1506.91 1268.12L1500.01 1257.72Z"/><path d="M1538.41 1247.32L1545.31 1257.72L1538.41 1268.12L1531.51 1257.72Z"/><path d="M1569.9 1247.32L1576.8 1257.72L1569.9 1268.12L1563 1257.72Z"/><path d="M1601.4 1247.32L1608.3 1257.72L1601.4 1268.12L1594.5 1257.72Z"/></g>
<path d="M593.5 1512.28L625 1513.43L656.49 1522.09L687.99 1522.09L719.49 1519.4L750.98 1547.3L782.48 1561.73L813.98 1531.33L845.48 1527.09L876.97 1532.87L908.47 1541.14L939.97 1546.34L971.46 1553.07L1002.96 1579.62L1034.46 1739.51L1065.95 1766.64L1097.45 2793M1097.45 2800L1128.95 1698.72L1160.44 1650.43L1191.94 1587.32L1223.44 1547.68L1254.93 1524.59L1286.43 1512.66L1317.93 1506.51L1349.42 1513.05L1380.92 1543.45L1412.42 1529.79L1443.92 1523.44L1475.41 1507.66L1506.91 1527.09L1538.41 1552.88L1569.9 1518.63L1601.4 1513.05" stroke="#00A2EE" stroke-width="5.0" fill="none" stroke-linejoin="round" clip-path="url(#cpc)"/>
<g stroke="#00A2EE" stroke-width="5.0" fill="none" stroke-miterlimit="10"><path d="M584.96 1506.28L602.04 1506.28L593.5 1522.6Z"/><path d="M616.46 1507.43L633.54 1507.43L625 1523.75Z"/><path d="M647.95 1516.09L665.03 1516.09L656.49 1532.41Z"/><path d="M679.45 1516.09L696.53 1516.09L687.99 1532.41Z"/><path d="M710.95 1513.4L728.03 1513.4L719.49 1529.72Z"/><path d="M742.44 1541.3L759.52 1541.3L750.98 1557.62Z"/><path d="M773.94 1555.73L791.02 1555.73L782.48 1572.05Z"/><path d="M805.44 1525.33L822.52 1525.33L813.98 1541.65Z"/><path d="M836.94 1521.09L854.01 1521.09L845.48 1537.41Z"/><path d="M868.43 1526.87L885.51 1526.87L876.97 1543.19Z"/><path d="M899.93 1535.14L917.01 1535.14L908.47 1551.46Z"/><path d="M931.43 1540.34L948.51 1540.34L939.97 1556.66Z"/><path d="M962.92 1547.07L980 1547.07L971.46 1563.39Z"/><path d="M994.42 1573.62L1011.5 1573.62L1002.96 1589.94Z"/><path d="M1025.92 1733.51L1043 1733.51L1034.46 1749.83Z"/><path d="M1057.41 1760.64L1074.49 1760.64L1065.95 1776.96Z"/><path d="M1120.41 1692.72L1137.49 1692.72L1128.95 1709.04Z"/><path d="M1151.9 1644.43L1168.98 1644.43L1160.44 1660.75Z"/><path d="M1183.4 1581.32L1200.48 1581.32L1191.94 1597.64Z"/><path d="M1214.9 1541.68L1231.98 1541.68L1223.44 1558Z"/><path d="M1246.39 1518.59L1263.47 1518.59L1254.93 1534.91Z"/><path d="M1277.89 1506.66L1294.97 1506.66L1286.43 1522.98Z"/><path d="M1309.39 1500.51L1326.47 1500.51L1317.93 1516.83Z"/><path d="M1340.88 1507.05L1357.96 1507.05L1349.42 1523.37Z"/><path d="M1372.38 1537.45L1389.46 1537.45L1380.92 1553.77Z"/><path d="M1403.88 1523.79L1420.96 1523.79L1412.42 1540.11Z"/><path d="M1435.38 1517.44L1452.46 1517.44L1443.92 1533.76Z"/><path d="M1466.87 1501.66L1483.95 1501.66L1475.41 1517.98Z"/><path d="M1498.37 1521.09L1515.45 1521.09L1506.91 1537.41Z"/><path d="M1529.87 1546.88L1546.95 1546.88L1538.41 1563.2Z"/><path d="M1561.36 1512.63L1578.44 1512.63L1569.9 1528.95Z"/><path d="M1592.86 1507.05L1609.94 1507.05L1601.4 1523.37Z"/></g>
<rect x="1252.6" y="1916.8" width="339.9" height="175.4" fill="#fff" stroke="#262626" stroke-width="2.2"/>
<path d="M1261.2 1941.4H1355.3" stroke="#F4511B" stroke-width="5.0"/>
<g stroke="#F4511B" stroke-width="5.0" fill="none" stroke-miterlimit="10"><circle cx="1308.4" cy="1941.4" r="7.3"/></g>
<text transform="translate(1361.6 1954) scale(0.912 0.96)" font-family="Liberation Serif, serif" font-size="34" fill="#000">optimal processor</text>
<path d="M1261.2 1983.3H1355.3" stroke="#7AB800" stroke-width="5.0"/>
<g stroke="#7AB800" stroke-width="5.0" fill="none" stroke-miterlimit="10"><rect x="1302.8" y="1977.3" width="11.2" height="12"/></g>
<text transform="translate(1361.6 1995.4) scale(0.932 1.02)" font-family="Liberation Serif, serif" font-size="34" fill="#000">CSSB-STAP</text>
<path d="M1261.2 2025.3H1355.3" stroke="#BEBE00" stroke-width="5.0"/>
<g stroke="#BEBE00" stroke-width="5.0" fill="none" stroke-miterlimit="10"><path d="M1308.4 2014.9L1315.3 2025.3L1308.4 2035.7L1301.5 2025.3Z"/></g>
<text transform="translate(1361.6 2037.4) scale(0.934 1.02)" font-family="Liberation Serif, serif" font-size="34" fill="#000">CSOB-STAP</text>
<path d="M1261.2 2066.5H1355.3" stroke="#00A2EE" stroke-width="5.0"/>
<g stroke="#00A2EE" stroke-width="5.0" fill="none" stroke-miterlimit="10"><path d="M1299.86 2060.5L1316.94 2060.5L1308.4 2076.82Z"/></g>
<text transform="translate(1361.6 2078.6) scale(0.934 1.02)" font-family="Liberation Serif, serif" font-size="34" fill="#000">LSMI-STAP</text>
<text transform="translate(1063.6 2344.8) scale(0.904 0.96)" text-anchor="middle" font-family="Liberation Serif, serif" font-weight="bold" font-size="80" fill="#000"><tspan font-weight="normal" stroke="#000" stroke-width="0.2" dy="-1.5">(</tspan><tspan dy="1.5">c</tspan><tspan font-weight="normal" stroke="#000" stroke-width="0.2" dy="-1.5">)</tspan></text>
</svg></body></html>
